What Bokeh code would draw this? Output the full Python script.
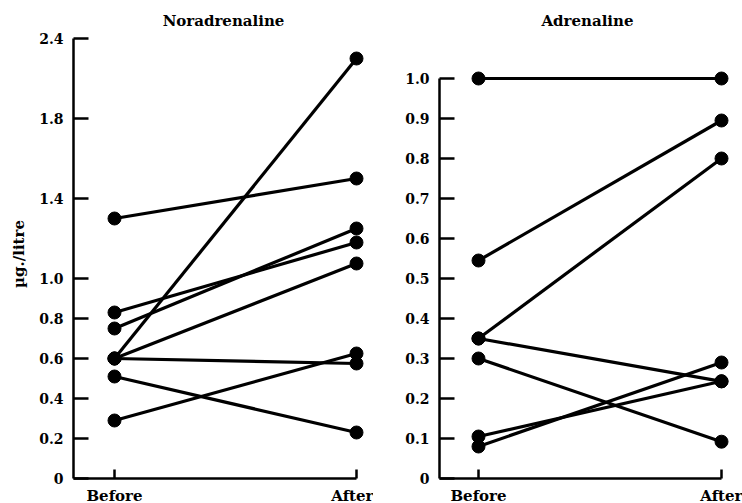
from bokeh.plotting import figure
from bokeh.models import ColumnDataSource, FixedTicker, LinearAxis, Title, Range1d
from bokeh.layouts import row
from bokeh.embed import file_html
from bokeh.resources import INLINE

# ---- data ----
phases = ["Before", "After"]
nor_before = [1.30, 0.83, 0.75, 0.60, 0.60, 0.60, 0.51, 0.29]
nor_after = [1.50, 1.18, 1.25, 2.10, 1.075, 0.575, 0.23, 0.625]
adr_before = [1.00, 0.545, 0.35, 0.35, 0.30, 0.105, 0.08]
adr_after = [1.00, 0.895, 0.80, 0.243, 0.092, 0.243, 0.29]

nor_ticks = [0, 0.2, 0.4, 0.6, 0.8, 1.0, 1.4, 1.8, 2.2]
nor_tick_labels = ["0", "0.2", "0.4", "0.6", "0.8", "1.0", "1.4", "1.8", "2.4"]
adr_ticks = [0, 0.1, 0.2, 0.3, 0.4, 0.5, 0.6, 0.7, 0.8, 0.9, 1.0]
adr_tick_labels = ["0", "0.1", "0.2", "0.3", "0.4", "0.5", "0.6", "0.7", "0.8", "0.9", "1.0"]

FONT = "DejaVu Serif"


def panel(title, before, after, ticks, tick_labels, x_range, y_range, ybound,
          border_left, frame_w, border_right, ylabel=None):
    p = figure(width=border_left + frame_w + border_right, height=503,
               frame_width=frame_w, frame_height=449,
               x_range=Range1d(*x_range), y_range=Range1d(*y_range),
               output_backend="svg", toolbar_location=None,
               x_axis_location=None, y_axis_location=None,
               min_border_left=border_left, min_border_right=border_right,
               min_border_top=29, min_border_bottom=25)
    p.title = None
    p.xgrid.visible = False
    p.ygrid.visible = False
    p.outline_line_color = None
    p.background_fill_color = "white"
    p.border_fill_color = "white"

    t = Title(text=title, align="center", text_font=FONT, text_font_style="bold",
              text_font_size="15px", text_color="black", standoff=0, offset=0)
    p.add_layout(t, "above")

    ya = LinearAxis(ticker=FixedTicker(ticks=ticks),
                    major_label_overrides={k: v for k, v in zip(ticks, tick_labels)},
                    bounds=ybound)
    ya.axis_line_width = 2.5
    ya.axis_line_color = "black"
    ya.major_tick_in = 15
    ya.major_tick_out = 0
    ya.major_tick_line_width = 2.5
    ya.minor_tick_line_color = None
    ya.major_label_standoff = 10
    ya.major_label_text_font = FONT
    ya.major_label_text_font_style = "bold"
    ya.major_label_text_font_size = "14px"
    ya.major_label_text_color = "black"
    if ylabel:
        ya.axis_label = ylabel
        ya.axis_label_text_font = FONT
        ya.axis_label_text_font_style = "bold"
        ya.axis_label_text_font_size = "15px"
        ya.axis_label_text_color = "black"
        ya.axis_label_standoff = 8
    p.add_layout(ya, "left")

    xa = LinearAxis(ticker=FixedTicker(ticks=[0, 1]),
                    major_label_overrides={0: phases[0], 1: phases[1]},
                    bounds=(x_range[0], 1))
    xa.axis_line_width = 2.5
    xa.axis_line_color = "black"
    xa.major_tick_in = 9
    xa.major_tick_out = 0
    xa.major_tick_line_width = 2.5
    xa.minor_tick_line_color = None
    xa.major_label_standoff = 8
    xa.major_label_text_font = FONT
    xa.major_label_text_font_style = "bold"
    xa.major_label_text_font_size = "15px"
    xa.major_label_text_color = "black"
    p.add_layout(xa, "below")

    src = ColumnDataSource(dict(x0=[0] * len(before), x1=[1] * len(after),
                                y0=before, y1=after))
    p.segment(x0="x0", y0="y0", x1="x1", y1="y1", source=src,
              line_color="black", line_width=3.2)
    p.scatter(x="x0", y="y0", source=src, size=13, color="black")
    p.scatter(x="x1", y="y1", source=src, size=13, color="black")
    return p


p1 = panel("Noradrenaline", nor_before, nor_after, nor_ticks, nor_tick_labels,
           (-41 / 242, 1 + 17 / 242), (0, 449 / 200), (0, 2.2),
           73, 300, 0, ylabel="\u00b5g./litre")
p2 = panel("Adrenaline", adr_before, adr_after, adr_ticks, adr_tick_labels,
           (-39 / 243, 1 + 14 / 243), (0, 449 / 400), (0, 1.0),
           66, 296, 7)

layout = row(p1, p2)
open("out.html", "w").write(file_html(layout, INLINE))
